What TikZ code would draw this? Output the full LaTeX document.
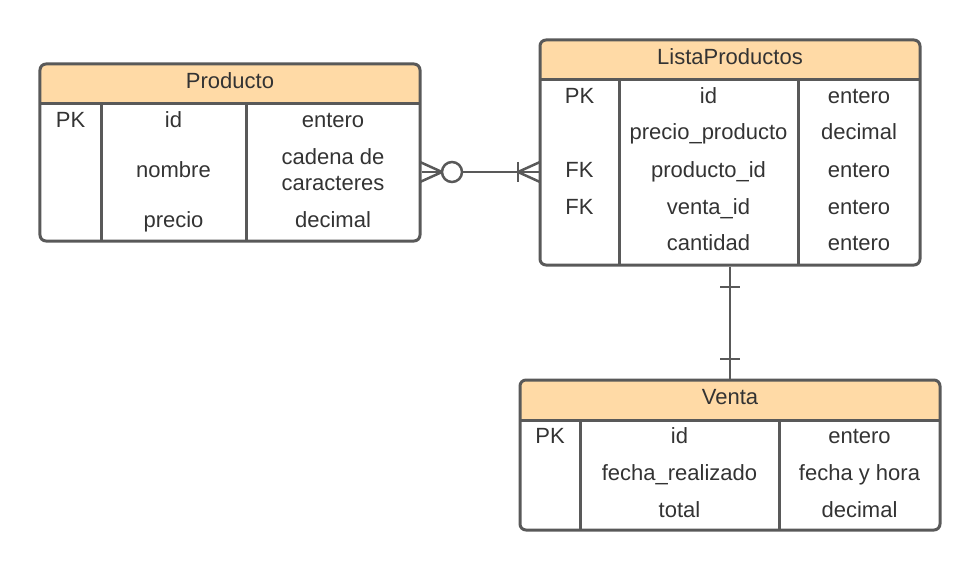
\documentclass[tikz,border=0pt]{standalone}
\usepackage{fontspec}
\setmainfont{Liberation Sans}
\definecolor{hd}{RGB}{255,218,166}
\definecolor{lc}{RGB}{89,89,89}
\definecolor{tc}{RGB}{51,51,51}
\begin{document}
\begin{tikzpicture}[x=1bp,y=-1bp,
  tbl/.style={draw=lc, line width=3bp, rounded corners=6bp, inner sep=0pt},
  sep/.style={draw=lc, line width=3bp},
  conn/.style={draw=lc, line width=2.5bp},
  txt/.style={font=\fontsize{22bp}{26bp}\selectfont, text=tc, inner sep=0pt, text height=19.5bp, text depth=4bp},
  txt2/.style={font=\fontsize{22bp}{26bp}\selectfont, text=tc, inner sep=0pt, align=center}]
\useasboundingbox (0,0) rectangle (980,571);

% ---------- Producto ----------
\fill[hd] (40,104) [rounded corners=6bp] -- (40,64) -- (420,64) [sharp corners] -- (420,104) -- cycle;
\node[tbl, minimum width=380bp, minimum height=177bp] (producto) at (230,152.5) {};
\draw[sep] (40,104) -- (420,104);
\draw[sep] (101,104) -- (101,241);
\draw[sep] (246,104) -- (246,241);
\node[txt] (p-h) at (230,81) {Producto};
\node[txt] (p-pk) at (70.5,120) {PK};
\node[txt] (p-id) at (173.5,120) {id};
\node[txt] (p-idt) at (333,120) {entero};
\node[txt] (p-nom) at (173.5,170) {nombre};
\node[txt2] (p-nomt) at (333,170) {cadena de\\caracteres};
\node[txt] (p-pre) at (173.5,220) {precio};
\node[txt] (p-pret) at (333,220) {decimal};

% ---------- ListaProductos ----------
\fill[hd] (540,80) [rounded corners=6bp] -- (540,40) -- (920,40) [sharp corners] -- (920,80) -- cycle;
\node[tbl, minimum width=380bp, minimum height=225bp] (lista) at (730,152.5) {};
\draw[sep] (540,80) -- (920,80);
\draw[sep] (619,80) -- (619,265);
\draw[sep] (798,80) -- (798,265);
\node[txt] (l-h) at (730,57) {ListaProductos};
\node[txt] (l-pk) at (579.5,96) {PK};
\node[txt] (l-id) at (708.5,96) {id};
\node[txt] (l-idt) at (859,96) {entero};
\node[txt] (l-pp) at (708.5,132) {precio\_producto};
\node[txt] (l-ppt) at (859,132) {decimal};
\node[txt] (l-fk1) at (579.5,170) {FK};
\node[txt] (l-pid) at (708.5,170) {producto\_id};
\node[txt] (l-pidt) at (859,170) {entero};
\node[txt] (l-fk2) at (579.5,207) {FK};
\node[txt] (l-vid) at (708.5,207) {venta\_id};
\node[txt] (l-vidt) at (859,207) {entero};
\node[txt] (l-can) at (708.5,243) {cantidad};
\node[txt] (l-cant) at (859,243) {entero};

% ---------- Venta ----------
\fill[hd] (520,420) [rounded corners=6bp] -- (520,380) -- (940,380) [sharp corners] -- (940,420) -- cycle;
\node[tbl, minimum width=420bp, minimum height=150bp] (venta) at (730,455) {};
\draw[sep] (520,420) -- (940,420);
\draw[sep] (580,420) -- (580,530);
\draw[sep] (779,420) -- (779,530);
\node[txt] (v-h) at (730,397) {Venta};
\node[txt] (v-pk) at (550,436) {PK};
\node[txt] (v-id) at (679.5,436) {id};
\node[txt] (v-idt) at (859.5,436) {entero};
\node[txt] (v-fr) at (679.5,473) {fecha\_realizado};
\node[txt] (v-frt) at (859.5,473) {fecha y hora};
\node[txt] (v-tot) at (679.5,510) {total};
\node[txt] (v-tott) at (859.5,510) {decimal};

% ---------- connectors ----------
\coordinate (c1) at (480,172);
\draw[conn] (producto.east |- c1) -- (lista.west |- c1);
% zero-or-many at Producto
\draw[conn] (420,162) -- (442,172) -- (420,182);
\draw[conn, fill=white] (452,172) circle (10bp);
% one-or-many at ListaProductos
\draw[conn] (540,162) -- (518,172) -- (540,182);
\draw[conn] (518,162) -- (518,182);

% one-and-only-one between ListaProductos and Venta
\draw[conn] (lista.south) -- (venta.north);
\draw[conn] (720,287) -- (740,287);
\draw[conn] (720,359) -- (740,359);
\end{tikzpicture}
\end{document}
